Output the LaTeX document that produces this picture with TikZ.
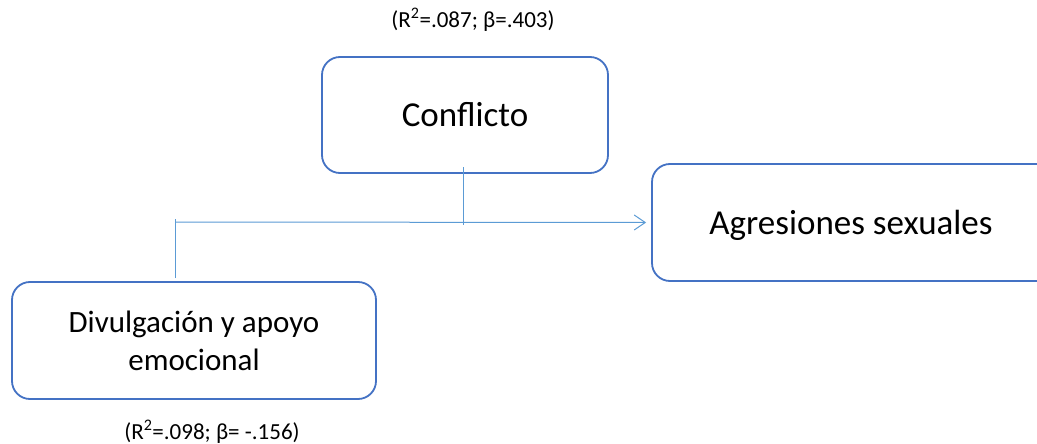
\documentclass[tikz,border=0pt]{standalone}
\usepackage{fontspec}
\setmainfont{Carlito}
\usetikzlibrary{arrows.meta}
\definecolor{boxblue}{HTML}{4472C4}
\definecolor{lineblue}{HTML}{5B9BD5}
\tikzset{
  varbox/.style={draw=boxblue, line width=1.8pt, rounded corners=18pt, inner sep=0pt, align=center,
    font=\fontsize{35}{40}\selectfont, text=black},
  conn/.style={draw=lineblue, line width=1pt},
  stat/.style={font=\fontsize{23}{26}\selectfont, text=black, inner sep=0pt}
}
\begin{document}
\begin{tikzpicture}[x=1pt,y=-1pt]
\useasboundingbox (0,0) rectangle (1037,444);
\clip (0,0) rectangle (1037,444);
\fill[white] (0,0) rectangle (1037,444);
\node[varbox, minimum width=286pt, minimum height=116pt] (conf) at (465,115) {Conflicto};
\node[varbox, minimum width=408pt, minimum height=117pt] (agr) at (856,222.5) {};
\node[text=black, font=\fontsize{35}{40}\selectfont] (agrtxt) at (851,225) {Agresiones sexuales};
\node[varbox, font=\fontsize{31}{38}\selectfont, minimum width=364pt, minimum height=117pt] (div) at (194,340.5) {Divulgación y apoyo\\emocional};
\node[stat] (s1) at (473,20) {(R\textsuperscript{2}=.087; β=.403)};
\node[stat] (s2) at (212,432) {(R\textsuperscript{2}=.098; β= -.156)};
\coordinate (j1) at (175,222);
\coordinate (j2) at (463,225);
\coordinate (d1) at (175,278);
\coordinate (c1) at (463,167);
\draw[conn] (d1) -- (175,219);
\draw[conn, -{Straight Barb[length=11pt,width=15pt,line width=1pt]}] (j1) -- ([xshift=-5pt]agr.west);
\draw[conn] (c1) -- (j2);
\end{tikzpicture}
\end{document}
